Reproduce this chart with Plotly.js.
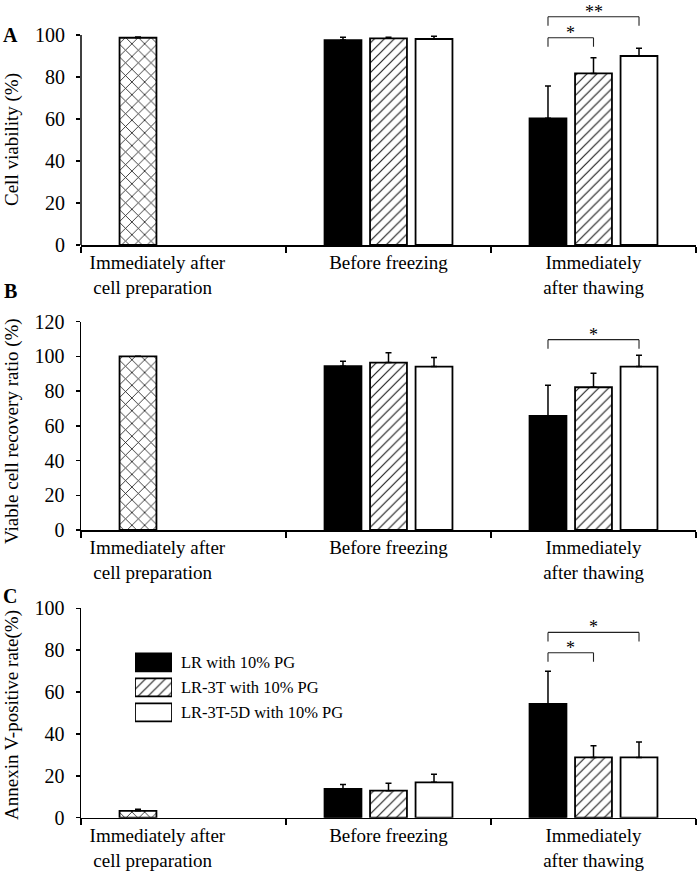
<!DOCTYPE html>
<html><head><meta charset="utf-8">
<script src="https://cdn.plot.ly/plotly-3.0.1.min.js"></script>
<style>html,body{margin:0;padding:0;background:#fff}</style>
</head><body><div id="chart" style="width:697px;height:883px"></div>
<script>
// ---------- data ----------
const categories = ['Immediately after cell preparation', 'Before freezing', 'Immediately after thawing'];
const NB = n => '\u00a0'.repeat(n);   // padding: the first label sits left of its category centre
const tickLabels = ['Immediately after' + NB(11) + '<br>cell preparation' + NB(13), 'Before freezing', 'Immediately<br>after thawing'];
const seriesNames = ['LR with 10% PG', 'LR-3T with 10% PG', 'LR-3T-5D with 10% PG'];
const panelLetters = ['A', 'B', 'C'];
const yTitles = ['Cell viability (%)', 'Viable cell recovery ratio (%)', 'Annexin V-positive rate(%)'];
const yTickVals = [[0, 20, 40, 60, 80, 100], [0, 20, 40, 60, 80, 100, 120], [0, 20, 40, 60, 80, 100]];

// single bar "Immediately after cell preparation" for panels A, B, C
const prepValues = [98.7, 100, 3.3];
const prepErrors = [0.3, 0, 0.7];

// [Before freezing, Immediately after thawing] for panels A, B, C
const lrValues   = [[97.6, 60.3], [94.3, 65.7], [13.7, 54.3]];
const lrErrors   = [[1.3, 15.4], [2.9, 17.6], [2.2, 15.6]];
const lr3tValues = [[98.4, 81.7], [96.4, 82.2], [12.9, 28.8]];
const lr3tErrors = [[0.5, 7.5], [5.7, 8.0], [3.5, 5.6]];
const lr5dValues = [[98.1, 90.0], [94.1, 94.1], [16.9, 28.8]];
const lr5dErrors = [[1.3, 3.7], [5.3, 6.5], [3.8, 7.4]];

// significance brackets in "Immediately after thawing": [from series, to series, height, label]
const sigA = [[0, 1, 98.7, '*'], [0, 2, 108.7, '**']];
const sigB = [[0, 2, 109.6, '*']];
const sigC = [[0, 1, 78.8, '*'], [0, 2, 88.5, '*']];
const sigs = [sigA, sigB, sigC];

// ---------- geometry / style ----------
const W = 697, H = 883, ML = 81, MR = 1;
const PW = W - ML - MR;
const panels = [
  {zero: 245,   top: 35,    topVal: 100, max: 114, axisTop: 100, letterPx: 35,  titlePx: 140},
  {zero: 530,   top: 321.6, topVal: 120, max: 120, axisTop: 120, letterPx: 291, titlePx: 431},
  {zero: 817.7, top: 608.3, topVal: 100, max: 100, axisTop: 100, letterPx: 596, titlePx: 715}
];
const slot = 0.222;            // distance between neighbouring bar centres (category units)
const barW = 0.18;             // bar width (category units)
const py = p => (H - p) / H;
const px = p => (p - ML) / PW;
const FONT = 'Liberation Serif, Times New Roman, serif';
const outline = {color: '#000', width: 1.8};
const crossPat = {shape: 'x', fgcolor: '#111', bgcolor: '#fff', size: 9, solidity: 0.17};
const hatchPat = {shape: '/', fgcolor: '#222', bgcolor: '#fff', size: 7, solidity: 0.17};
const seriesMarkers = [
  {color: '#000', line: outline},
  {color: '#fff', line: outline, pattern: hatchPat},
  {color: '#fff', line: outline}
];
const prepMarker = {color: '#fff', line: outline, pattern: crossPat};

const traces = [];
const layout = {
  width: W, height: H,
  margin: {l: ML, r: MR, t: 0, b: 0},
  paper_bgcolor: '#fff', plot_bgcolor: 'rgba(0,0,0,0)',
  font: {family: FONT, color: '#000', size: 19},
  barmode: 'overlay',
  showlegend: false,
  shapes: [], annotations: []
};

const errBars = arr => ({type: 'data', symmetric: false, array: arr, arrayminus: arr.map(() => 0),
                         color: '#000', thickness: 1.5, width: 3});

panels.forEach((P, i) => {
  const sfx = i === 0 ? '' : String(i + 1);
  const xa = 'x' + sfx, ya = 'y' + sfx;
  const ppu = (P.zero - P.top) / P.topVal;

  // cell-preparation bar sits in the first slot
  traces.push({
    type: 'bar', xaxis: xa, yaxis: ya, x: categories.slice(0, 1), y: [prepValues[i]],
    error_y: errBars([prepErrors[i]]), width: barW, offset: -slot - barW / 2,
    marker: prepMarker, hoverinfo: 'skip'
  });
  const vals = [lrValues, lr3tValues, lr5dValues];
  const errs = [lrErrors, lr3tErrors, lr5dErrors];
  for (let s = 0; s < 3; s++) {
    traces.push({
      type: 'bar', name: seriesNames[s], xaxis: xa, yaxis: ya, x: categories.slice(1), y: vals[s][i],
      error_y: errBars(errs[s][i]), width: barW, offset: (s - 1) * slot - barW / 2,
      marker: seriesMarkers[s], hoverinfo: 'skip'
    });
  }

  layout['xaxis' + sfx] = {
    domain: [0, 1], anchor: ya, type: 'category', categoryorder: 'array', categoryarray: categories,
    tickmode: 'array', tickvals: categories, ticktext: tickLabels,
    range: [-0.5, 2.5], tickson: 'boundaries', ticks: 'outside', ticklen: 6, tickwidth: 1.5, tickcolor: '#000',
    showline: true, linewidth: 1.5, linecolor: '#000', showgrid: false, zeroline: false,
    tickfont: {size: 19}, fixedrange: true
  };
  layout['yaxis' + sfx] = {
    domain: [py(P.zero), py(P.zero - P.max * ppu)], anchor: xa, range: [0, P.max],
    tickvals: yTickVals[i], ticks: 'outside', ticklen: 4, tickwidth: 1.5, tickcolor: '#000',
    ticklabelstandoff: 7,
    showline: P.axisTop === P.max, linewidth: 1.5, linecolor: '#000', showgrid: false, zeroline: false,
    tickfont: {size: 20}, fixedrange: true
  };
  if (P.axisTop !== P.max) {
    layout.shapes.push({type: 'line', xref: xa + ' domain', yref: ya, x0: 0, x1: 0, y0: 0, y1: P.axisTop,
                        line: {color: '#000', width: 1.5}});
  }
  // brackets
  const leg = 9 / ppu;
  sigs[i].forEach(sg => {
    const x0 = 2 + (sg[0] - 1) * slot, x1 = 2 + (sg[1] - 1) * slot, y = sg[2];
    const ln = {color: '#222', width: 1.1};
    layout.shapes.push({type: 'line', xref: xa, yref: ya, x0: x0, x1: x0, y0: y - leg, y1: y, line: ln});
    layout.shapes.push({type: 'line', xref: xa, yref: ya, x0: x0, x1: x1, y0: y, y1: y, line: ln});
    layout.shapes.push({type: 'line', xref: xa, yref: ya, x0: x1, x1: x1, y0: y - leg, y1: y, line: ln});
    layout.annotations.push({xref: xa, yref: ya, x: (x0 + x1) / 2, y: y, text: sg[3], showarrow: false,
                             xanchor: 'center', yanchor: 'middle', yshift: 5, font: {size: 18}});
  });
  // y-axis title
  layout.annotations.push({xref: 'paper', yref: 'paper', x: px(12), y: py(P.titlePx), text: yTitles[i],
                           textangle: -90, showarrow: false, xanchor: 'center', yanchor: 'middle',
                           font: {size: 19}});
  // panel letter
  layout.annotations.push({xref: 'paper', yref: 'paper', x: px(10), y: py(P.letterPx),
                           text: '<b>' + panelLetters[i] + '</b>', showarrow: false,
                           xanchor: 'center', yanchor: 'middle', font: {size: 20}});
});

// legend drawn as a small bar subplot inside panel C (one key bar per series)
for (let s = 0; s < 3; s++) {
  traces.push({
    type: 'bar', orientation: 'h', xaxis: 'x4', yaxis: 'y4', y: [seriesNames[s]], x: [1],
    width: 0.72, offset: -0.36, cliponaxis: false, hoverinfo: 'skip', marker: seriesMarkers[s]
  });
}
layout.xaxis4 = {domain: [px(135), px(172)], anchor: 'y4', range: [0, 1], visible: false, fixedrange: true};
layout.yaxis4 = {domain: [py(724.8), py(649.8)], anchor: 'x4', type: 'category', categoryorder: 'array',
                 categoryarray: seriesNames, range: [2.5, -0.5], side: 'right', ticks: '', showline: false,
                 showgrid: false, zeroline: false, ticklabelstandoff: 8, tickfont: {size: 16.5}, fixedrange: true};

Plotly.newPlot('chart', traces, layout, {staticPlot: true, displayModeBar: false});
</script>
</body></html>
